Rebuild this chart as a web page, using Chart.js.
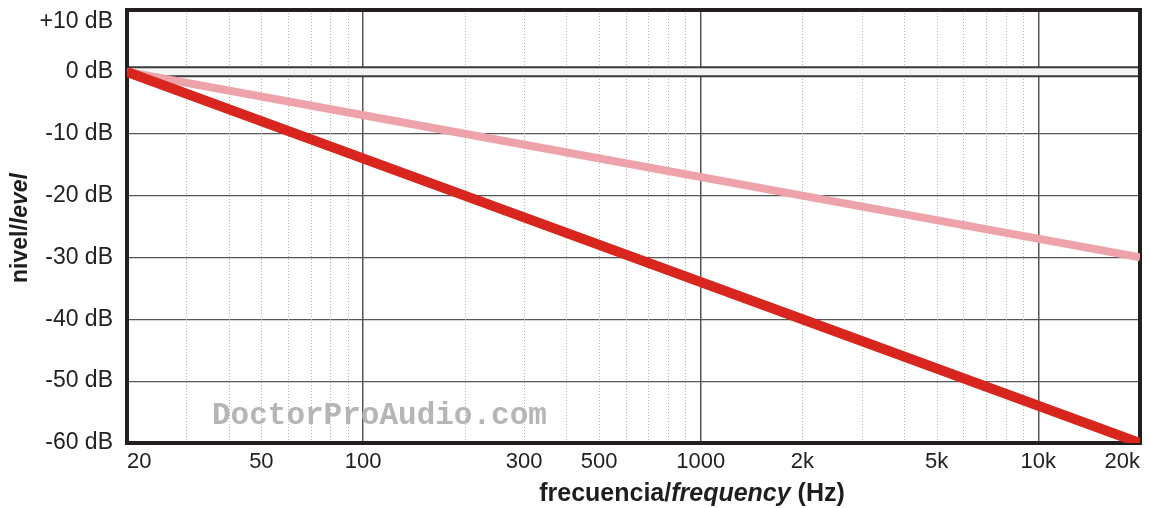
<!DOCTYPE html>
<html>
<head>
<meta charset="utf-8">
<script src="https://cdn.jsdelivr.net/npm/chart.js@4"></script>
<style>
  body { margin: 0; background: #fff; }
</style>
</head>
<body>
<canvas id="grafico" width="1150" height="508"></canvas>
<script>
// datos
const frecuencias = [20, 200, 2000, 20000];
const nivelSuave = [0, -10, -20, -30];
const nivelFuerte = [0, -20, -40, -60];
const etiquetasX = [20, 50, 100, 300, 500, 1000, 2000, 5000, 10000, 20000];
const etiquetasY = [10, 0, -10, -20, -30, -40, -50, -60];

const FUENTE = '"Liberation Sans", Arial, sans-serif';

function formatoHz(v) {
    return v > 1000 ? (v / 1000) + 'k' : String(v);
}

// todas las lineas 1..9 por decada entre 20 y 20k
const marcasX = [];
[10, 100, 1000, 10000].forEach(d => {
    for (let m = 1; m <= 9; m++) {
        const v = d * m;
        if (v >= 20 && v <= 20000) marcasX.push(v);
    }
});

const esDecada = v => [100, 1000, 10000].includes(v);

function textoMixto(ctx, partes, x, y) {
    let total = 0;
    partes.forEach(p => { ctx.font = p[0]; total += ctx.measureText(p[1]).width; });
    let cx = x - total / 2;
    partes.forEach(p => {
        ctx.font = p[0];
        ctx.fillText(p[1], cx, y);
        cx += ctx.measureText(p[1]).width;
    });
}

const fondoPlugin = {
    id: 'fondo',
    beforeDatasetsDraw(chart) {
        const ctx = chart.ctx;
        const x = chart.scales.x, y = chart.scales.y;
        const a = chart.chartArea;
        ctx.save();
        // lineas menores punteadas
        ctx.strokeStyle = '#b0b0b0';
        ctx.lineWidth = 1;
        ctx.setLineDash([1, 2]);
        marcasX.forEach(v => {
            if (esDecada(v) || v === 20 || v === 20000) return;
            const px = Math.round(x.getPixelForValue(v)) + 0.5;
            ctx.beginPath();
            ctx.moveTo(px, a.top);
            ctx.lineTo(px, a.bottom);
            ctx.stroke();
        });
        ctx.setLineDash([]);
        // doble linea de 0 dB
        const y0 = y.getPixelForValue(0);
        ctx.fillStyle = '#f4f4f4';
        ctx.fillRect(a.left, y0 - 4.5, a.right - a.left, 9);
        ctx.strokeStyle = '#3a3a3a';
        ctx.lineWidth = 2;
        [y0 - 4.5, y0 + 4.5].forEach(py => {
            ctx.beginPath();
            ctx.moveTo(a.left, py);
            ctx.lineTo(a.right, py);
            ctx.stroke();
        });
        // marco
        ctx.strokeStyle = '#231f1e';
        ctx.lineWidth = 4;
        ctx.strokeRect(a.left, a.top, a.right - a.left, a.bottom - a.top);
        // marca de agua
        ctx.fillStyle = '#b5b5b5';
        ctx.font = 'bold 31px "Liberation Mono", "DejaVu Sans Mono", monospace';
        ctx.textBaseline = 'alphabetic';
        ctx.textAlign = 'left';
        ctx.fillText('DoctorProAudio.com', 212, 424);
        ctx.restore();
    },
    afterDraw(chart) {
        const ctx = chart.ctx;
        ctx.save();
        ctx.fillStyle = '#1e1e1e';
        ctx.textBaseline = 'alphabetic';
        ctx.textAlign = 'left';
        // titulo eje x
        textoMixto(ctx, [
            ['bold 25px ' + FUENTE, 'frecuencia/'],
            ['italic bold 25px ' + FUENTE, 'frequency'],
            ['bold 25px ' + FUENTE, ' (Hz)']
        ], 692, 501);
        // titulo eje y
        ctx.translate(27, 228);
        ctx.rotate(-Math.PI / 2);
        textoMixto(ctx, [
            ['bold 23px ' + FUENTE, 'nivel/'],
            ['italic bold 23px ' + FUENTE, 'level']
        ], 0, 0);
        ctx.restore();
    }
};

const ctx = document.getElementById('grafico');
new Chart(ctx, {
    type: 'line',
    data: {
        datasets: [
            {
                label: '-20 dB/dec',
                data: frecuencias.map((f, i) => ({ x: f, y: nivelFuerte[i] })),
                borderColor: '#d8261f',
                borderWidth: 10,
                pointRadius: 0,
                tension: 0
            },
            {
                label: '-10 dB/dec',
                data: frecuencias.map((f, i) => ({ x: f, y: nivelSuave[i] })),
                borderColor: '#eea2aa',
                borderWidth: 8,
                pointRadius: 0,
                tension: 0
            }
        ]
    },
    options: {
        responsive: false,
        animation: false,
        layout: { padding: { top: 10, right: 0, left: 0, bottom: 0 } },
        plugins: {
            legend: { display: false },
            tooltip: { enabled: false }
        },
        scales: {
            x: {
                type: 'logarithmic',
                min: 20,
                max: 20000,
                afterBuildTicks: scale => {
                    scale.ticks = marcasX.map(v => ({ value: v }));
                },
                afterFit: scale => {
                    scale.height = 65;
                    scale.paddingLeft = 0;
                    scale.paddingRight = 10;
                },
                border: { display: false },
                grid: {
                    drawTicks: false,
                    color: c => esDecada(c.tick.value) ? '#555' : 'rgba(0,0,0,0)',
                    lineWidth: 1.5
                },
                ticks: {
                    autoSkip: false,
                    maxRotation: 0,
                    align: 'inner',
                    padding: 6,
                    color: '#222',
                    font: { family: FUENTE, size: 22 },
                    callback: v => etiquetasX.includes(v) ? formatoHz(v) : ''
                }
            },
            y: {
                min: -60,
                max: 10,
                afterBuildTicks: scale => {
                    scale.ticks = etiquetasY.map(v => ({ value: v }));
                },
                afterFit: scale => {
                    scale.width = 127;
                    scale.paddingTop = 0;
                    scale.paddingBottom = 0;
                },
                border: { display: false },
                grid: {
                    drawTicks: false,
                    color: c => c.tick.value === 0 ? 'rgba(0,0,0,0)' : '#555',
                    lineWidth: 1.2
                },
                ticks: {
                    padding: 14,
                    color: '#222',
                    font: { family: FUENTE, size: 23, lineHeight: 1 },
                    // la etiqueta superior va un poco por debajo del borde
                    callback: v => v > 0 ? ['', '+' + v + ' dB'] : v + ' dB'
                }
            }
        }
    },
    plugins: [fondoPlugin]
});
</script>
</body>
</html>
